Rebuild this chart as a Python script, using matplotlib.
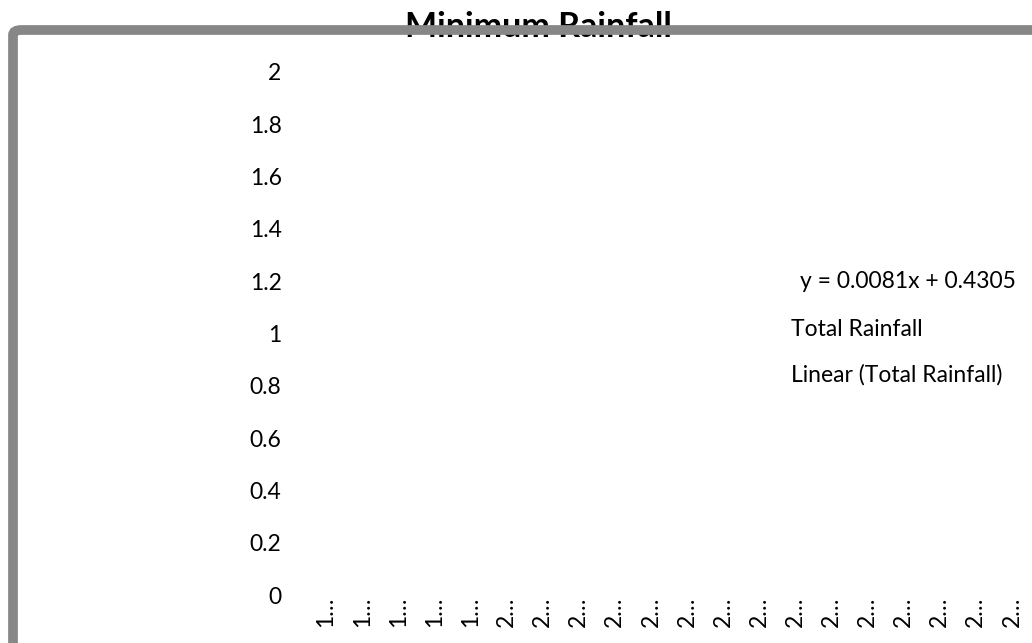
import matplotlib.pyplot as plt
from matplotlib.patches import FancyBboxPatch
import numpy as np

plt.rcParams['font.family'] = ['Lato', 'DejaVu Sans']

# truncated year labels as they appear on the category axis
YEAR_LABELS = ['1…'] * 5 + ['2…'] * 15
Y_TICKS = [0, 0.2, 0.4, 0.6, 0.8, 1, 1.2, 1.4, 1.6, 1.8, 2]
Y_TICK_LABELS = ['0', '0.2', '0.4', '0.6', '0.8', '1', '1.2', '1.4', '1.6', '1.8', '2']
TREND_SLOPE = 0.0081
TREND_INTERCEPT = 0.4305
LEGEND_LABELS = ['Total Rainfall', 'Linear (Total Rainfall)']

W, H = 1032, 643
fig = plt.figure(figsize=(W / 100, H / 100), dpi=100)
ax = fig.add_axes([308 / W, 48 / H, 722 / W, 523 / H])

x = np.arange(len(YEAR_LABELS))
ax.set_xlim(-0.5, len(YEAR_LABELS) - 0.5)
ax.set_ylim(0, 2)
ax.set_xticks(x)
ax.set_xticklabels(YEAR_LABELS, rotation=90, fontsize=16.5)
ax.set_yticks(Y_TICKS)
ax.set_yticklabels(Y_TICK_LABELS, fontsize=16.5)
ax.tick_params(length=0)
ax.tick_params(axis='y', pad=19)
ax.tick_params(axis='x', pad=1)
for s in ax.spines.values():
    s.set_visible(False)

fig.text(538 / W, 1 - 37 / H, 'Minimum Rainfall', ha='center', va='baseline',
         fontsize=24.5, fontweight='bold')

# trendline equation and legend entries (text only, no marks visible)
fig.text(800 / W, 1 - 282 / H,
         'y = {:.4f}x + {:.4f}'.format(TREND_SLOPE, TREND_INTERCEPT),
         ha='left', va='center', fontsize=16.5)
for i, lab in enumerate(LEGEND_LABELS):
    fig.text(791 / W, 1 - (329 + 46 * i) / H, lab,
             ha='left', va='center', fontsize=16.5)

# grey chart frame, running off the right and bottom edges
frame = FancyBboxPatch((13 / W, -0.1), 1.2, 1 - 30 / H + 0.1,
                       boxstyle='round,pad=0,rounding_size=0.008',
                       transform=fig.transFigure, facecolor='none',
                       edgecolor='#878787', linewidth=7, zorder=10)
fig.patches.append(frame)

fig.savefig('out.png', dpi=100)
